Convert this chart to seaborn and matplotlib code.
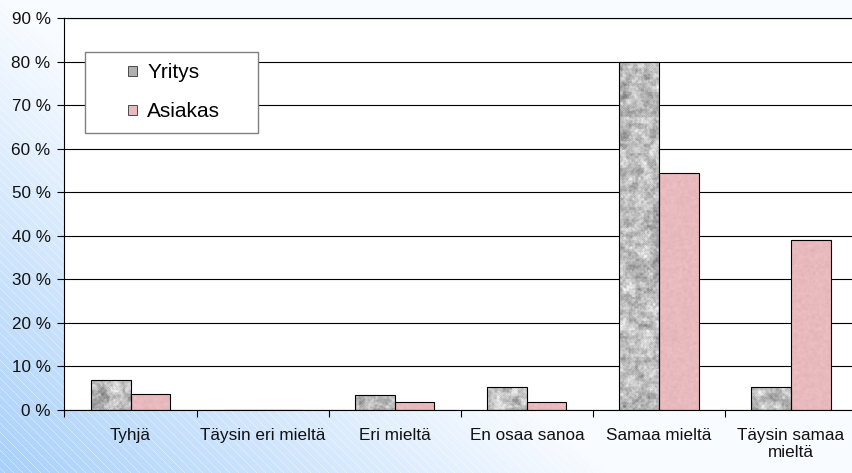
import numpy as np
import pandas as pd
import matplotlib
matplotlib.use("Agg")
import matplotlib.pyplot as plt
from matplotlib.patches import Rectangle
from matplotlib.legend_handler import HandlerPatch
import seaborn as sns

# ---- data ---------------------------------------------------------------
categories = ["Tyhjä", "Täysin eri mieltä", "Eri mieltä", "En osaa sanoa",
              "Samaa mieltä", "Täysin samaa\nmieltä"]
groups = ["Yritys", "Asiakas"]
yritys = [6.8, 0.0, 3.4, 5.2, 80.0, 5.2]
asiakas = [3.6, 0.0, 1.8, 1.8, 54.4, 39.0]
y_ticks = [0, 10, 20, 30, 40, 50, 60, 70, 80, 90]
y_tick_labels = [f"{v} %" for v in y_ticks]

df = pd.DataFrame({
    "kategoria": categories * 2,
    "ryhmä": [groups[0]] * len(categories) + [groups[1]] * len(categories),
    "osuus": yritys + asiakas,
})

sns.set_style("white")
plt.rcParams["font.family"] = ["Liberation Sans", "DejaVu Sans"]
plt.rcParams["text.color"] = "black"

W, H = 853, 473
fig = plt.figure(figsize=(W / 100, H / 100), dpi=100)

# ---- background: diagonal blue-to-white gradient with thin light stripes --
bg = fig.add_axes([0, 0, 1, 1], zorder=-10)
yy, xx = np.mgrid[0:H, 0:W]
u = xx / W
v = yy / H
b = np.clip(1.0 - (1.4 * u + 1.0 * (1.0 - v)), 0, 1)
blue = np.array([168, 208, 250]) / 255
white = np.array([248, 251, 255]) / 255
bg_img = white + b[..., None] * (blue - white)
stripe = ((xx - yy) % 9) < 1
bg_img[stripe] = bg_img[stripe] * 0.6 + 0.4
bg.imshow(bg_img, extent=(0, 1, 0, 1), aspect="auto", origin="upper",
          interpolation="nearest")
bg.set_axis_off()

# ---- main axes ----------------------------------------------------------
ax = fig.add_axes([64.5 / W, 1 - 410 / H, 6 * 132.1 / W, (410 - 18.3) / H])
ax.set_facecolor("white")

palette = {"Yritys": "#b8b8b8", "Asiakas": "#e8b9bc"}
sns.barplot(data=df, x="kategoria", y="osuus", hue="ryhmä",
            order=categories, hue_order=groups, palette=palette,
            width=0.6, saturation=1, errorbar=None, legend=False,
            edgecolor="black", linewidth=0.8, ax=ax)

ax.set_xlim(-0.5, len(categories) - 0.5)
ax.set_ylim(0, 90)


# ---- textured fills (granite grey / soft pink) --------------------------
def hash_noise(shape, seed):
    i, j = np.indices(shape)
    val = np.sin(i * 12.9898 + j * 78.233 + seed * 37.719) * 43758.5453
    return val - np.floor(val)


def smooth(a):
    return (a + np.roll(a, 1, 0) + np.roll(a, -1, 0)
            + np.roll(a, 1, 1) + np.roll(a, -1, 1)) / 5.0


def normalise(a):
    return (a - a.min()) / (a.max() - a.min())


tex_shape = (392, 792)
coarse = smooth(hash_noise((tex_shape[0] // 3 + 1, tex_shape[1] // 3 + 1), 1))
coarse = np.kron(coarse, np.ones((3, 3)))[:tex_shape[0], :tex_shape[1]]
coarse = smooth(coarse)
fine = smooth(hash_noise(tex_shape, 3))
n_grey = normalise(0.65 * normalise(coarse) + 0.35 * normalise(fine))
g = np.clip(0.42 + 0.62 * n_grey, 0, 0.95)
grey_tex = np.dstack([g, g, g])

n_pink = smooth(smooth(hash_noise(tex_shape, 2)))
n_pink = normalise(n_pink) - 0.5
pink_base = np.array([233, 186, 189]) / 255
pink_tex = np.clip(pink_base + 0.07 * n_pink[..., None], 0, 1)

textures = [grey_tex, pink_tex]
x0, x1 = ax.get_xlim()
y0, y1 = ax.get_ylim()
for container, tex in zip(ax.containers, textures):
    for bar in container:
        bar.set_facecolor("none")
        bar.set_zorder(2)
        if bar.get_height() <= 0:
            continue
        im = ax.imshow(tex, extent=(x0, x1, y0, y1), aspect="auto",
                       interpolation="nearest", zorder=1.5)
        im.set_clip_path(bar)

ax.set_xlim(x0, x1)
ax.set_ylim(y0, y1)
ax.set_aspect("auto")

# ---- axes styling -------------------------------------------------------
ax.set_xlabel("")
ax.set_ylabel("")
ax.set_yticks(y_ticks)
ax.set_yticklabels(y_tick_labels)
ax.set_xticks(range(len(categories)))
ax.set_xticklabels(categories, fontsize=12.3, linespacing=1.15)
ax.set_xticks(np.arange(-0.5, len(categories), 1.0), minor=True)

ax.yaxis.grid(True, color="black", linewidth=0.8)
ax.xaxis.grid(False)
ax.set_axisbelow(True)

ax.tick_params(axis="y", which="major", left=True, length=5, width=0.8,
               color="black", direction="out", pad=5, labelsize=12.3,
               labelcolor="#111111")
ax.tick_params(axis="x", which="major", bottom=True, length=0, pad=13,
               labelsize=12.3, labelcolor="#111111")
ax.tick_params(axis="x", which="minor", bottom=True, length=5, width=0.8,
               color="black", direction="out")

for side in ["left", "bottom", "top"]:
    ax.spines[side].set_visible(True)
    ax.spines[side].set_color("black")
    ax.spines[side].set_linewidth(0.8)
ax.spines["right"].set_visible(False)


# ---- legend -------------------------------------------------------------
def small_square(legend, orig_handle, xdescent, ydescent, width, height,
                 fontsize):
    s = 0.45 * fontsize
    return Rectangle((width - xdescent - s, -ydescent + (height - s) / 2), s, s)


handles = [
    Rectangle((0, 0), 1, 1, facecolor="#b0b0b0", edgecolor="#333333", linewidth=0.6),
    Rectangle((0, 0), 1, 1, facecolor=palette["Asiakas"], edgecolor="#333333", linewidth=0.6),
]
leg = ax.legend(handles, groups,
                handler_map={Rectangle: HandlerPatch(patch_func=small_square)},
                loc="upper left", bbox_to_anchor=(0.0259, 0.5, 0.2182, 0.414),
                mode="expand", borderaxespad=0, borderpad=0.55,
                handlelength=1.95, handletextpad=0.48, labelspacing=0.95,
                fontsize=15, frameon=True, fancybox=False,
                edgecolor="#808080", framealpha=1, facecolor="white")
leg.get_frame().set_linewidth(1.0)
leg.set_zorder(5)

fig.savefig("out.png", dpi=100)
